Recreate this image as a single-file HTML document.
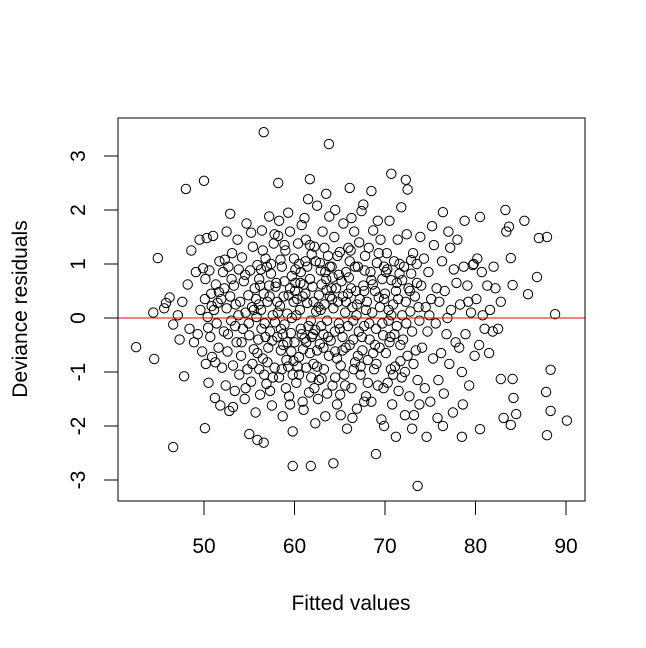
<!DOCTYPE html>
<html><head><meta charset="utf-8"><style>
html,body{margin:0;padding:0;background:#fff;}
svg{display:block;font-family:"Liberation Sans",Arial,sans-serif;}
</style></head><body>
<svg id="chart" width="646" height="648" viewBox="0 0 646 648" xmlns="http://www.w3.org/2000/svg">
<rect x="0" y="0" width="646" height="648" fill="#fff"/>
<g id="points"></g>
<line x1="118" y1="318" x2="585" y2="318" stroke="#ff0000" stroke-width="1"/>
<rect x="118" y="118" width="467" height="383" fill="none" stroke="#000" stroke-width="1"/>
<g id="xaxis"></g>
<g id="yaxis"></g>
<text x="351" y="610" text-anchor="middle" font-size="21">Fitted values</text>
<text transform="translate(27,309) rotate(-90)" text-anchor="middle" font-size="21">Deviance residuals</text>
</svg>
<script>
const xTicks=[50,60,70,80,90];
const yTicks=[-3,-2,-1,0,1,2,3];
const observations=[
[42.5,-0.54],[44.4,0.1],[44.5,-0.76],[44.9,1.11],[46.6,-2.39],[48.0,2.39],[50,2.54],[56.6,3.44],[63.8,3.22],[70.7,2.67],[72.3,2.56],[73.6,-3.11],[90.1,-1.9],[88.8,0.07],[88.3,-0.96],[88.3,-1.72],[87.9,-2.17],[87.8,-1.37],[87.9,1.5],[87,1.48],[86.8,0.76],[85.4,1.8],[85.8,0.44],[84.5,-1.78],[84.1,-1.13],[84.2,-1.48],[82.8,-1.13],[83.3,2.0],[83.4,1.6],[83.7,1.69],[83.9,1.11],[84.1,0.61],[80.5,1.87],[78.8,1.8],[78.5,-2.2],[80.5,-2.06],[83.1,-1.85],[83.9,-1.98],[76.4,1.96],[72.9,1.07],[72.2,-1.8],[59.8,-2.74],[61.8,-2.74],[64.3,-2.69],[69,-2.52],[55.9,-2.26],[56.6,-2.31],[50.1,-2.04],[52.9,1.93],[58.2,2.5],[61.7,2.57],[66.1,2.41],
[47.3,-0.4],[47.6,0.3],[47.8,-1.08],[48.2,0.62],[48.4,-0.2],[48.6,1.25],[48.9,-0.45],[49.1,0.85],[49.3,-0.3],[49.5,1.45],[49.6,0.15],[49.8,-0.62],[49.9,0.92],[45.8,0.28],[46.2,0.38],[46.6,-0.12],[45.6,0.18],[47.1,0.05],
[50.1,0.35],[50.2,-0.85],[50.3,1.48],[50.4,0.02],[50.5,-1.2],[50.6,0.88],[50.7,-0.35],[50.8,0.45],[50.9,-0.72],[51.0,1.52],[51.1,0.15],[51.2,-1.48],[51.3,0.62],[51.4,-0.1],[51.5,0.28],[51.6,-0.55],[51.7,1.05],[51.8,-1.62],[51.9,0.35],[52.0,-0.92],[50.15,0.72],[50.45,-0.18],[50.85,0.22],[51.25,-0.82],[51.65,0.48],
[52.1,0.85],[52.2,-0.25],[52.3,1.08],[52.4,-1.25],[52.5,0.18],[52.6,-0.62],[52.7,0.95],[52.8,-1.72],[52.9,0.4],[53.0,-0.05],[53.1,1.2],[53.2,-0.88],[53.3,0.6],[53.4,-1.35],[53.5,0.25],[53.6,-0.45],[53.7,1.45],[53.8,0.05],[53.9,-1.05],[52.25,0.55],[52.65,-0.3],[53.05,0.72],[53.45,-0.15],[53.85,0.9],[53.2,-1.65],[52.5,1.6],
[54.0,0.3],[54.1,-0.7],[54.2,1.12],[54.3,-0.2],[54.4,0.68],[54.5,-1.5],[54.6,0.1],[54.7,1.75],[54.8,-0.95],[54.9,0.42],[55.0,-0.32],[55.1,0.88],[55.2,-1.18],[55.3,0.2],[55.4,1.32],[55.5,-0.58],[55.6,0.55],[55.7,-1.75],[55.8,0.02],[55.9,0.98],[54.15,-0.45],[54.55,0.8],[54.95,-0.1],[55.35,-0.85],[55.75,0.35],[55.0,-2.15],[54.6,-1.3],[55.2,1.58],
[56.0,-0.4],[56.1,0.72],[56.2,-1.42],[56.3,0.15],[56.4,1.62],[56.5,-0.75],[56.6,0.45],[56.7,-0.1],[56.8,1.1],[56.9,-1.22],[57.0,0.3],[57.1,-0.55],[57.2,1.88],[57.3,-0.25],[57.4,0.82],[57.5,-1.62],[57.6,0.05],[57.7,1.38],[57.8,-0.92],[57.9,0.58],[56.05,0.25],[56.35,-0.2],[56.65,-1.05],[56.95,0.95],[57.25,0.4],[57.55,-0.42],[57.85,-0.08],[56.5,1.25],[57.3,-1.35],[57.8,1.55],[56.2,0.6],[57.0,-0.82],
[58.0,0.65],[58.1,-0.35],[58.2,1.52],[58.3,-1.1],[58.4,0.22],[58.5,-0.6],[58.6,0.95],[58.7,-1.82],[58.8,0.4],[58.9,-0.12],[59.0,1.25],[59.1,-0.78],[59.2,0.08],[59.3,1.95],[59.4,-1.45],[59.5,0.55],[59.6,-0.28],[59.7,0.78],[59.8,-1.05],[59.9,0.3],[58.15,0.1],[58.45,1.08],[58.75,-0.5],[59.05,-1.3],[59.35,0.42],[59.65,-0.62],[59.95,1.1],[58.6,-0.95],[59.2,-0.45],[59.5,1.6],[58.9,0.68],[59.8,-2.1],
[60.0,-0.45],[60.1,0.9],[60.2,-1.2],[60.3,0.35],[60.4,1.38],[60.5,-0.72],[60.6,0.15],[60.7,-0.2],[60.8,1.72],[60.9,-1.55],[61.0,0.62],[61.1,-0.38],[61.2,1.05],[61.3,-0.92],[61.4,0.28],[61.5,2.2],[61.6,-1.38],[61.7,0.72],[61.8,-0.05],[61.9,1.18],[60.05,0.5],[60.35,-0.9],[60.65,0.65],[60.95,-0.58],[61.25,1.45],[61.55,-0.15],[61.85,-1.1],[60.5,1.0],[61.0,-1.7],[61.4,0.95],[60.2,0.05],[61.7,-0.65],[60.8,-0.3],[61.2,0.45],
[62.0,0.58],[62.1,-0.85],[62.2,1.32],[62.3,-0.22],[62.4,0.12],[62.5,2.08],[62.6,-1.5],[62.7,0.42],[62.8,-0.48],[62.9,0.88],[63.0,-1.12],[63.1,1.6],[63.2,-0.3],[63.3,0.25],[63.4,-1.82],[63.5,0.72],[63.6,-0.05],[63.7,1.15],[63.8,-0.7],[63.9,0.4],[62.05,-0.3],[62.35,1.05],[62.65,0.2],[62.95,-0.15],[63.25,-0.95],[63.55,0.52],[63.85,1.88],[62.2,-1.3],[63.0,0.62],[63.6,-1.4],[62.8,1.02],[63.4,0.85],[62.5,-0.6],[63.2,-0.55],
[64.0,-0.42],[64.1,0.95],[64.2,-1.25],[64.3,0.18],[64.4,1.5],[64.5,-0.62],[64.6,0.55],[64.7,-1.6],[64.8,0.3],[64.9,-0.1],[65.0,1.22],[65.1,-0.88],[65.2,0.68],[65.3,-0.35],[65.4,1.75],[65.5,-1.05],[65.6,0.1],[65.7,0.85],[65.8,-2.05],[65.9,0.45],[64.15,0.35],[64.45,-0.25],[64.75,1.15],[65.05,-1.42],[65.35,0.4],[65.65,-0.55],[65.95,1.3],[64.5,2.0],[65.0,-0.2],[65.6,-1.25],[64.2,0.75],
[66.0,0.75],[66.1,-0.5],[66.2,1.25],[66.3,-1.3],[66.4,0.2],[66.5,-0.05],[66.6,1.6],[66.7,-0.82],[66.8,0.5],[66.9,-1.68],[67.0,0.95],[67.1,-0.25],[67.2,0.35],[67.3,-1.05],[67.4,1.98],[67.5,-0.6],[67.6,0.6],[67.7,-0.15],[67.8,1.15],[67.9,-1.45],[66.25,0.55],[66.55,-0.95],[66.85,0.05],[67.15,1.4],[67.45,-0.35],[67.75,0.88],[66.4,-1.85],[67.0,-0.7],[67.6,2.1],
[68.0,0.3],[68.1,-0.78],[68.2,1.3],[68.3,-0.4],[68.4,0.85],[68.5,-1.55],[68.6,0.1],[68.7,1.62],[68.8,-0.95],[68.9,0.5],[69.0,-0.2],[69.1,1.02],[69.2,-1.25],[69.3,0.38],[69.4,-0.55],[69.5,1.45],[69.6,-1.88],[69.7,0.72],[69.8,-0.32],[69.9,0.95],[68.25,-0.1],[68.65,0.62],[69.05,-0.85],[69.45,0.2],[69.85,-1.3],[68.5,2.35],[69.2,1.8],[69.9,-2.0],
[70.0,0.45],[70.1,-0.65],[70.2,1.2],[70.3,-1.2],[70.4,0.15],[70.5,1.8],[70.6,-0.35],[70.7,0.7],[70.8,-1.6],[70.9,0.25],[71.0,1.05],[71.1,-0.9],[71.2,0.5],[71.3,-0.15],[71.4,1.45],[71.5,-1.35],[71.6,0.82],[71.7,-0.5],[71.8,2.05],[71.9,0.05],[70.25,0.9],[70.65,-0.95],[71.05,-0.3],[71.45,0.35],[71.85,-1.1],[71.2,-2.2],[70.4,-0.05],[71.6,1.0],
[72.0,-0.4],[72.1,0.95],[72.2,-1.0],[72.3,0.3],[72.4,1.55],[72.5,-0.7],[72.6,0.55],[72.7,-1.45],[72.8,0.12],[72.9,0.82],[73.0,-0.25],[73.1,1.2],[73.2,-1.8],[73.3,0.4],[73.4,-0.6],[73.5,1.0],[73.6,-1.15],[73.7,0.2],[73.8,-0.05],[73.9,1.5],[72.35,-0.1],[72.75,0.5],[73.15,-0.85],[73.55,0.65],[72.5,2.38],[73.0,-2.05],[73.8,-1.6],
[74.0,0.6],[74.1,-0.55],[74.3,1.1],[74.4,-1.3],[74.5,0.2],[74.7,-0.25],[74.8,0.85],[75.0,-1.55],[75.1,0.35],[75.3,-0.75],[75.4,1.35],[75.6,-0.1],[75.7,0.55],[75.9,-1.15],[74.6,-2.2],[75.2,1.7],[75.8,-1.85],[74.9,0.05],
[76.0,0.3],[76.2,-0.65],[76.3,1.05],[76.5,-1.4],[76.6,0.5],[76.8,-0.3],[77.0,1.6],[77.1,-0.85],[77.3,0.15],[77.5,-1.75],[77.6,0.9],[77.8,-0.45],[77.9,0.65],[76.4,-2.0],[77.2,1.3],[76.9,0.0],
[78.0,1.45],[78.2,-0.55],[78.3,0.25],[78.5,-1.0],[78.7,0.95],[78.9,-0.3],[79.1,0.6],[79.3,-1.25],[79.5,0.1],[79.7,0.98],[79.9,-0.7],[78.6,-1.6],[79.2,0.3],[79.8,1.0],
[80.1,0.35],[80.4,-0.5],[80.7,0.85],[81.0,-0.2],[81.3,0.6],[81.6,0.15],[81.9,-0.25],[82.2,0.55],[82.5,-0.2],[80.2,1.1],[81.5,-0.65],[82.8,0.3],[80.8,0.05],[82.0,0.95],
[55.5,0.15],[55.9,-0.65],[56.3,0.9],[56.8,-0.35],[57.2,0.6],[57.6,-1.1],[58.1,0.3],[58.5,-0.2],[58.9,1.35],[59.3,-0.9],[59.7,0.0],[60.1,0.65],[60.5,-1.05],[60.9,0.4],[61.3,-0.45],[61.7,1.35],[62.1,0.3],[62.5,-0.9],[62.9,0.15],[63.3,1.3],[63.7,-0.35],[64.1,0.55],[64.5,-1.1],[64.9,0.8],[65.3,-0.6],[65.7,0.3],[66.1,1.05],[66.5,-0.4],[66.9,0.25],[67.3,-0.9],[67.7,0.5],[68.1,-1.2],[68.5,0.7],[68.9,-0.5],[69.3,1.2],[69.7,-0.1],[70.1,0.85],[70.5,-0.45],[70.9,-1.05],[71.3,0.65],[71.7,-0.8],[56.1,-0.95],[57.4,1.0],[58.7,-0.3],[59.9,-0.8],[60.7,0.85],[61.9,-0.35],[62.7,-1.15],[63.9,0.95],[64.7,-0.75],[65.9,-0.15],[66.7,0.95],[67.9,0.15],[68.7,-0.65],[69.9,0.35],[70.7,0.05],[71.9,0.7],[58.3,1.8],[61.1,1.85],[63.5,2.3],[66.3,1.85],[59.5,-1.6],[62.3,-1.95],[65.1,-1.8],[67.7,-1.55]
];
const NS="http://www.w3.org/2000/svg";
function xScale(v){return 204+(v-50)*9.05;}
function yScale(v){return 318-v*54;}
const pg=document.getElementById('points');
observations.forEach(function(o){
  const c=document.createElementNS(NS,'circle');
  c.setAttribute('cx',xScale(o[0]).toFixed(1));
  c.setAttribute('cy',yScale(o[1]).toFixed(1));
  c.setAttribute('r','4.7');
  c.setAttribute('fill','none');
  c.setAttribute('stroke','#000');
  c.setAttribute('stroke-width','1');
  
  
  pg.appendChild(c);
});
const xa=document.getElementById('xaxis');
let l=document.createElementNS(NS,'line');
l.setAttribute('x1',xScale(xTicks[0]));l.setAttribute('x2',xScale(xTicks[xTicks.length-1]));
l.setAttribute('y1',501);l.setAttribute('y2',501);l.setAttribute('stroke','#000');


xa.appendChild(l);
xTicks.forEach(function(t){
  const tk=document.createElementNS(NS,'line');
  tk.setAttribute('x1',xScale(t));tk.setAttribute('x2',xScale(t));
  tk.setAttribute('y1',501);tk.setAttribute('y2',515);tk.setAttribute('stroke','#000');
  
  
  xa.appendChild(tk);
  const tx=document.createElementNS(NS,'text');
  tx.setAttribute('x',xScale(t));tx.setAttribute('y',553);
  tx.setAttribute('text-anchor','middle');tx.setAttribute('font-size','21');
  tx.textContent=t;
  
  
  xa.appendChild(tx);
});
const ya=document.getElementById('yaxis');
l=document.createElementNS(NS,'line');
l.setAttribute('x1',118);l.setAttribute('x2',118);
l.setAttribute('y1',yScale(yTicks[0]));l.setAttribute('y2',yScale(yTicks[yTicks.length-1]));l.setAttribute('stroke','#000');


ya.appendChild(l);
yTicks.forEach(function(t){
  const tk=document.createElementNS(NS,'line');
  tk.setAttribute('x1',104);tk.setAttribute('x2',118);
  tk.setAttribute('y1',yScale(t));tk.setAttribute('y2',yScale(t));tk.setAttribute('stroke','#000');
  
  
  ya.appendChild(tk);
  const tx=document.createElementNS(NS,'text');
  tx.setAttribute('transform','translate(85,'+yScale(t)+') rotate(-90)');
  tx.setAttribute('text-anchor','middle');tx.setAttribute('font-size','21');
  tx.textContent=t;
  
  
  ya.appendChild(tx);
});
</script>
</body></html>
